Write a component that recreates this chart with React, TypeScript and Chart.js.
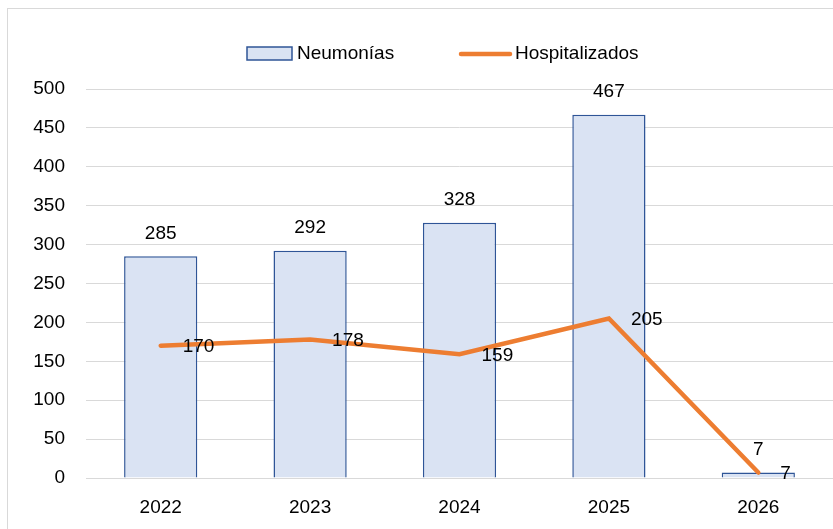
import React, { useEffect, useRef } from "react";
import { Chart, registerables } from "chart.js";

Chart.register(...registerables);

const categories = ["2022", "2023", "2024", "2025", "2026"];
const neumonias = [285, 292, 328, 467, 7];
const hospitalizados = [170, 178, 159, 205, 7];
const yTicks = [0, 50, 100, 150, 200, 250, 300, 350, 400, 450, 500];

const FONT = "'Liberation Sans', Arial, sans-serif";
const BAR_FILL = "#dae3f3";
const BAR_BORDER = "#2f5597";
const LINE_COLOR = "#ed7d31";

const decorPlugin = {
  id: "decor",
  beforeDraw(chart: any) {
    const ctx = chart.ctx;
    ctx.save();
    ctx.fillStyle = "#ffffff";
    ctx.fillRect(0, 0, chart.width, chart.height);
    ctx.strokeStyle = "#d9d9d9";
    ctx.lineWidth = 1;
    ctx.strokeRect(7.5, 8.5, chart.width + 10, chart.height + 10);
    ctx.restore();
  },
  afterDraw(chart: any) {
    const ctx = chart.ctx;
    ctx.save();
    ctx.font = `19px ${FONT}`;
    ctx.fillStyle = "#000000";
    ctx.textBaseline = "middle";
    // legend
    const ly = 54;
    ctx.fillStyle = BAR_FILL;
    ctx.fillRect(247, 47, 45, 13);
    ctx.strokeStyle = BAR_BORDER;
    ctx.lineWidth = 1.5;
    ctx.strokeRect(247, 47, 45, 13);
    ctx.fillStyle = "#000000";
    ctx.textAlign = "left";
    ctx.fillText(chart.data.datasets[0].label, 297, ly);
    ctx.strokeStyle = LINE_COLOR;
    ctx.lineWidth = 4.5;
    ctx.lineCap = "round";
    ctx.beginPath();
    ctx.moveTo(461, ly);
    ctx.lineTo(510, ly);
    ctx.stroke();
    ctx.fillText(chart.data.datasets[1].label, 515, ly);

    // data labels
    const barMeta = chart.getDatasetMeta(0);
    ctx.textAlign = "center";
    barMeta.data.forEach((el: any, i: number) => {
      ctx.fillText(String(neumonias[i]), el.x, el.y - 23);
    });
    const lineMeta = chart.getDatasetMeta(1);
    ctx.textAlign = "left";
    lineMeta.data.forEach((el: any, i: number) => {
      ctx.fillText(String(hospitalizados[i]), el.x + 22, el.y + 1);
    });
    ctx.restore();
  },
};

export default function App() {
  const ref = useRef<HTMLCanvasElement>(null);
  useEffect(() => {
    if (!ref.current) return;
    const chart = new Chart(ref.current, {
      type: "bar",
      data: {
        labels: categories,
        datasets: [
          {
            type: "bar",
            label: "Neumonías",
            data: neumonias,
            backgroundColor: BAR_FILL,
            borderColor: BAR_BORDER,
            borderWidth: 1.5,
            categoryPercentage: 1,
            barPercentage: 0.49,
            order: 2,
          },
          {
            type: "line",
            label: "Hospitalizados",
            data: hospitalizados,
            borderColor: LINE_COLOR,
            backgroundColor: LINE_COLOR,
            borderWidth: 4.5,
            pointRadius: 0,
            tension: 0,
            borderCapStyle: "round",
            order: 1,
          } as any,
        ],
      },
      options: {
        responsive: false,
        animation: false,
        layout: { padding: { top: 89, left: 0, right: 0, bottom: 0 } },
        plugins: {
          legend: { display: false },
          tooltip: { enabled: false },
        },
        scales: {
          x: {
            afterFit: (s: any) => {
              s.height = 51;
            },
            grid: { display: false, drawTicks: false },
            border: { display: true, color: "#d9d9d9", width: 1 },
            ticks: { color: "#000", font: { family: FONT, size: 19 }, padding: 18 },
          },
          y: {
            min: 0,
            max: 500,
            afterBuildTicks: (s: any) => {
              s.ticks = yTicks.map((v) => ({ value: v }));
            },
            afterFit: (s: any) => {
              s.width = 86;
            },
            grid: { color: "#d9d9d9", lineWidth: 1, drawTicks: false },
            border: { display: false },
            ticks: { color: "#000", font: { family: FONT, size: 19 }, padding: 21 },
          },
        },
      },
      plugins: [decorPlugin],
    });
    return () => chart.destroy();
  }, []);
  return (
    <div style={{ position: "fixed", left: 0, top: 0, width: 833, height: 529 }}>
      <canvas ref={ref} width={833} height={529} style={{ display: "block" }} />
    </div>
  );
}
